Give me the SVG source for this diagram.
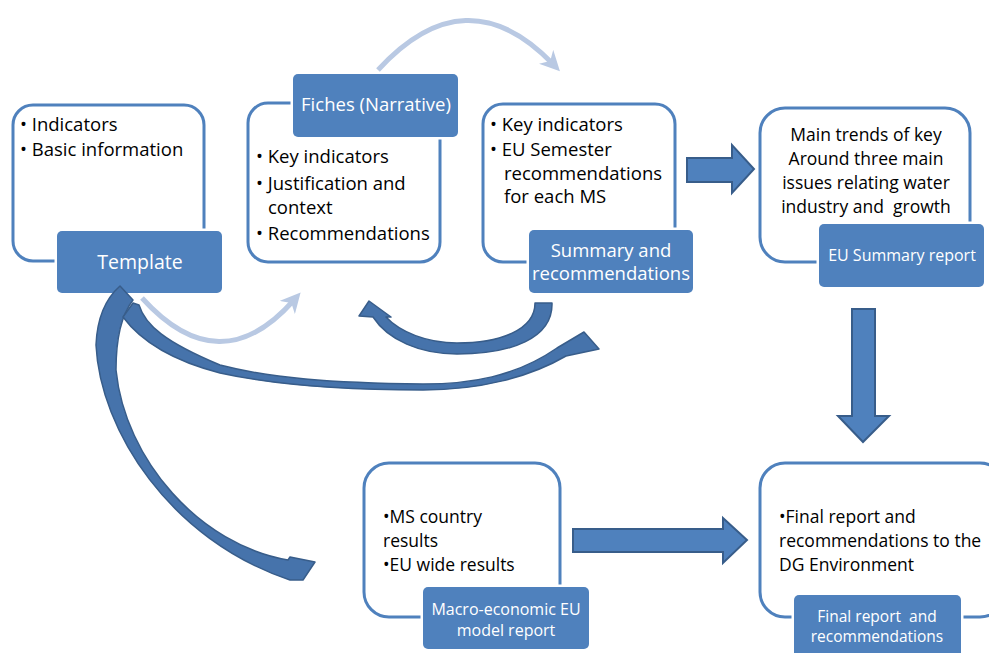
<svg xmlns="http://www.w3.org/2000/svg" width="989" height="653" viewBox="0 0 989 653">
  <style>
    .frame { fill: #ffffff; stroke: #4f81bd; stroke-width: 3; }
    .tag { fill: #4f81bd; stroke: #ffffff; stroke-width: 5; paint-order: stroke; }
    .txt { font-family: "Open Sans", "Liberation Sans", sans-serif; font-size: 18.5px; fill: #000000; }
    .mid { font-size: 17.5px; }
    .tagtxt { font-family: "Open Sans", "Liberation Sans", sans-serif; font-size: 18.5px; fill: #ffffff; text-anchor: middle; }
    .big { font-size: 19.5px; }
    .small { font-size: 16px; }
    .smaller { font-size: 15.5px; }
    .block { fill: #4f81bd; stroke: #385d8a; stroke-width: 2; stroke-linejoin: miter; }
    .swoosh { fill: #4673ab; stroke: #385d8a; stroke-width: 1.5; stroke-linejoin: round; }
    .light { fill: none; stroke: #b9c9e3; stroke-width: 5; }
  </style>
  <defs>
    <marker id="lightHead" viewBox="0 0 10 10" refX="5" refY="5" markerWidth="4" markerHeight="4" orient="auto" markerUnits="strokeWidth">
      <path d="M0,0 L10,5 L0,10 L3,5 Z" fill="#b9c9e3"/>
    </marker>
  </defs>

  <rect width="989" height="653" fill="#ffffff"/>

  <!-- Template -->
  <g id="node-template">
    <rect class="frame" x="13" y="105" width="191" height="156" rx="20"/>
    <text class="txt" x="20" y="131">• Indicators</text>
    <text class="txt" x="20" y="156">• Basic information</text>
    <rect class="tag" x="57" y="231" width="165" height="62" rx="5"/>
    <text class="tagtxt big" x="140" y="269">Template</text>
  </g>

  <!-- Fiches -->
  <g id="node-fiches">
    <rect class="frame" x="248" y="103" width="192" height="159" rx="20"/>
    <text class="txt" x="256" y="163">• Key indicators</text>
    <text class="txt" x="256" y="190">• Justification and</text>
    <text class="txt" x="268" y="214">context</text>
    <text class="txt" x="256" y="240">• Recommendations</text>
    <rect class="tag" x="293" y="74" width="165" height="63" rx="5"/>
    <text class="tagtxt" x="376" y="111">Fiches (Narrative)</text>
  </g>

  <!-- Summary and recommendations -->
  <g id="node-summary">
    <rect class="frame" x="483" y="104" width="192" height="158" rx="20"/>
    <text class="txt" x="490" y="131">• Key indicators</text>
    <text class="txt" x="490" y="156">• EU Semester</text>
    <text class="txt" x="504" y="180">recommendations</text>
    <text class="txt" x="504" y="203">for each MS</text>
    <rect class="tag" x="529" y="230" width="164" height="63" rx="5"/>
    <text class="tagtxt" x="611" y="257">Summary and</text>
    <text class="tagtxt" x="611" y="280">recommendations</text>
  </g>

  <!-- EU Summary report -->
  <g id="node-eu-summary">
    <rect class="frame" x="760" y="108" width="210" height="154" rx="25"/>
    <text class="txt mid" x="866" y="141" text-anchor="middle">Main trends of key</text>
    <text class="txt mid" x="866" y="165" text-anchor="middle">Around three main</text>
    <text class="txt mid" x="866" y="189" text-anchor="middle">issues relating water</text>
    <text class="txt mid" x="866" y="213" text-anchor="middle" xml:space="preserve">industry and  growth</text>
    <rect class="tag" x="819" y="224" width="165" height="63" rx="5"/>
    <text class="tagtxt small" x="902" y="261">EU Summary report</text>
  </g>

  <!-- Macro-economic EU model report -->
  <g id="node-macro">
    <rect class="frame" x="364" y="463" width="196" height="154" rx="25"/>
    <text class="txt mid" x="383" y="523">•MS country</text>
    <text class="txt mid" x="383" y="547">results</text>
    <text class="txt mid" x="383" y="571">•EU wide results</text>
    <rect class="tag" x="423" y="587" width="166" height="62" rx="5"/>
    <text class="tagtxt small" x="506" y="615">Macro-economic EU</text>
    <text class="tagtxt small" x="506" y="636">model report</text>
  </g>

  <!-- Final report and recommendations -->
  <g id="node-final">
    <rect class="frame" x="760" y="463" width="245" height="154" rx="25"/>
    <text class="txt mid" x="779" y="523">•Final report and</text>
    <text class="txt mid" x="779" y="547">recommendations to the</text>
    <text class="txt mid" x="779" y="571">DG Environment</text>
    <rect class="tag" x="794" y="595" width="167" height="75" rx="5"/>
    <text class="tagtxt smaller" x="877" y="622" xml:space="preserve">Final report  and</text>
    <text class="tagtxt smaller" x="877" y="642">recommendations</text>
  </g>

  <!-- Connectors -->
  <g id="connectors">
    <!-- light arcs -->
    <path class="light" d="M378,70 Q466,-26 553,64" marker-end="url(#lightHead)"/>
    <path class="light" d="M142,298 Q220,384 294,300" marker-end="url(#lightHead)"/>

    <!-- straight block arrows -->
    <path class="block" d="M687,158 L732,158 L732,145 L754,169 L732,193 L732,182 L687,182 Z"/>
    <path class="block" d="M852,309 L875,309 L875,416 L889,416 L863,442 L838,416 L852,416 Z"/>
    <path class="block" d="M573,529 L723,529 L723,518 L747,540 L723,563 L723,552 L573,552 Z"/>

    <!-- summary back to fiches -->
    <path class="swoosh" d="M535,303 L552,303 C553,338 512,354 457,354 C420,354 388,340 373,317 L359,316 L369,301 L391,317 L386,317 C400,332 427,343 457,343 C500,343 535,330 535,303 Z"/>

    <!-- template down to the macro-economic model -->
    <path class="swoosh" d="M120,286 C104,300 97,320 96,345 C100,430 170,540 290,580 L303,580 L315,562 L290,557 L288,560 C200,545 125,460 116,370 C116,335 122,314 133,300 Z"/>

    <!-- template out to summary and recommendations -->
    <path class="swoosh" d="M133,303 L139,305 C145,325 165,342 220,365 C270,378 330,383 423,384 C470,384 515,377 557,348 L584,332 L599,349 L566,356 C530,377 480,390 423,390 C330,390 270,384 220,373 C170,360 140,340 123,317 Z"/>
  </g>
</svg>
